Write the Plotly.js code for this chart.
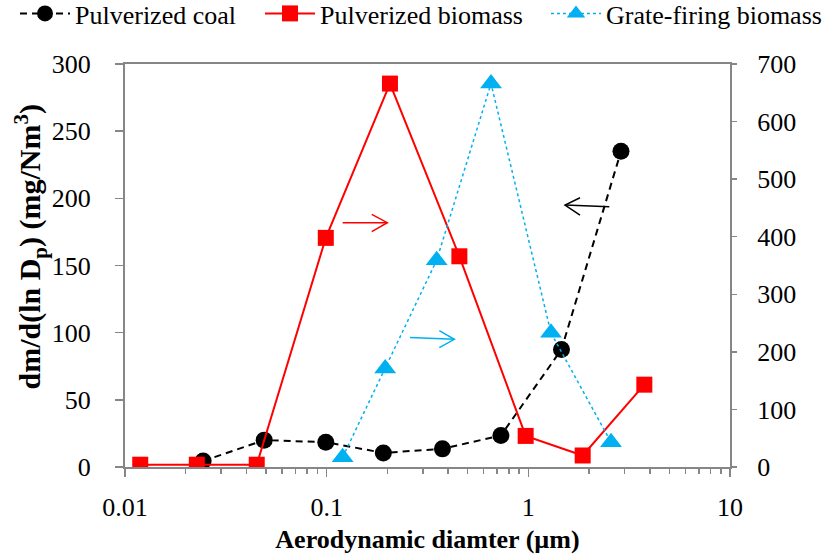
<!DOCTYPE html>
<html>
<head>
<meta charset="utf-8">
<script src="https://cdn.plot.ly/plotly-3.0.1.min.js"></script>
<style>html,body{margin:0;padding:0;background:#fff;}#chart{width:826px;height:554px;}</style>
</head>
<body>
<div id="chart"></div>
<script>
// ---- data ----
const coalX = [0.0244, 0.049, 0.099, 0.191, 0.375, 0.731, 1.46, 2.88];
const coalY = [4.5, 20, 18.5, 10.5, 13.5, 23.5, 87.5, 235];

const pulvBioX = [0.0119, 0.0227, 0.045, 0.099, 0.206, 0.455, 0.97, 1.86, 3.76];
const pulvBioY = [4, 4, 4, 398, 666, 366, 54, 20, 143];

const grateX = [0.120, 0.195, 0.351, 0.653, 1.295, 2.57];
const grateY = [17, 171, 359, 666, 233, 43];

const seriesNames = ["Pulverized coal", "Pulverized biomass", "Grate-firing biomass"];
const xTickVals = [0.01, 0.1, 1, 10];
const xTickText = ["0.01", "0.1", "1", "10"];

// ---- layout geometry ----
const W = 826, H = 554;
const L = 125, R = 96, T = 64, B = 87;
const pw = W - L - R, ph = H - T - B;
const FONT = "'Liberation Serif', 'Times New Roman', Times, serif";
const FS = 26;
const AX = "#868686";

function P(x, y) { return ((x - L) / pw).toFixed(4) + "," + ((H - B - y) / ph).toFixed(4); }
function arrow(x0, y0, x1, y1, hx1, hy1, hx2, hy2, color) {
  return [
    {type: "path", xref: "paper", yref: "paper", path: "M" + P(x0, y0) + "L" + P(x1, y1), line: {color: color, width: 1.5}},
    {type: "path", xref: "paper", yref: "paper", path: "M" + P(hx1, hy1) + "L" + P(x1, y1) + "L" + P(hx2, hy2), line: {color: color, width: 1.5}}
  ];
}
function legendAt(px) {
  return {orientation: "h", x: (px - L) / pw, xanchor: "left", y: (H - B + 10) / ph, yanchor: "top",
          font: {family: FONT, size: 26, color: "#000"}, bgcolor: "rgba(0,0,0,0)", itemwidth: 50};
}

const traces = [
  {x: coalX, y: coalY, name: seriesNames[0], type: "scatter", mode: "lines+markers", yaxis: "y", legend: "legend",
   line: {color: "#000", width: 2, dash: "7px,5px"}, marker: {symbol: "circle", size: 17, color: "#000"}},
  {x: pulvBioX, y: pulvBioY, name: seriesNames[1], type: "scatter", mode: "lines+markers", yaxis: "y2", legend: "legend2",
   line: {color: "#FF0000", width: 2}, marker: {symbol: "square", size: 16, color: "#FF0000"}},
  {x: grateX, y: grateY, name: seriesNames[2], type: "scatter", mode: "lines+markers", yaxis: "y2", legend: "legend3",
   line: {color: "#00B0F0", width: 1.5, dash: "dot"}, marker: {symbol: "triangle-up", size: 19, color: "#00B0F0"}}
];

const shapes = [].concat(
  arrow(342.7, 222.7, 387.3, 222.7, 371.7, 214.3, 371.7, 231.7, "#FF0000"),
  arrow(410, 337.5, 454.3, 339.3, 439.3, 330.7, 439.3, 347.7, "#00B0F0"),
  arrow(609.3, 206.7, 565, 205, 580, 197.7, 580, 215, "#000000")
);

const layout = {
  width: W, height: H,
  margin: {l: L, r: R, t: T, b: B, autoexpand: false},
  paper_bgcolor: "#fff", plot_bgcolor: "#fff",
  font: {family: FONT, size: FS, color: "#000"},
  showlegend: true,
  legend: legendAt(15),
  legend2: legendAt(260),
  legend3: legendAt(546),
  xaxis: {type: "log", range: [-2, 1], tickvals: xTickVals, ticktext: xTickText,
          showline: true, linecolor: AX, linewidth: 2, mirror: true,
          ticks: "outside", ticklen: 8, tickwidth: 1.5, tickcolor: AX, ticklabelstandoff: 8,
          minor: {ticks: "outside", ticklen: 5, tickwidth: 1.5, tickcolor: AX, dtick: "D1", showgrid: false},
          showgrid: false, zeroline: false,
          tickfont: {family: FONT, size: FS, color: "#000"},
          title: {text: "<b>Aerodynamic diamter (µm)</b>", font: {family: FONT, size: FS, color: "#000"}, standoff: 10}},
  yaxis: {range: [0, 300], dtick: 50, showline: true, linecolor: AX, linewidth: 2,
          ticks: "outside", ticklen: 8, tickwidth: 1.5, tickcolor: AX, ticklabelstandoff: 19,
          showgrid: false, zeroline: false,
          tickfont: {family: FONT, size: FS, color: "#000"},
          title: {text: "<b>&nbsp;&nbsp;&nbsp;&nbsp;&nbsp;dm/d(ln D<sub>p</sub>) (mg/Nm<sup>3</sup>)</b>",
                  font: {family: FONT, size: 30, color: "#000"}, standoff: 2}},
  // right axis: labels pushed out with an invisible long tick
  yaxis2: {range: [0, 700], dtick: 100, overlaying: "y", side: "right", showline: true, linecolor: AX, linewidth: 2,
           ticks: "outside", ticklen: 20, tickwidth: 1.5, tickcolor: "rgba(0,0,0,0)",
           showgrid: false, zeroline: false,
           tickfont: {family: FONT, size: FS, color: "#000"}},
  // right axis visible short ticks
  yaxis3: {range: [0, 700], dtick: 100, overlaying: "y", side: "right", showline: false,
           ticks: "outside", ticklen: 6, tickwidth: 1.5, tickcolor: AX, showticklabels: false,
           showgrid: false, zeroline: false},
  shapes: shapes
};

// invisible helper trace so the third (tick-only) axis is drawn
traces.push({x: [0.01], y: [0], yaxis: "y3", type: "scatter", mode: "markers",
             marker: {opacity: 0}, showlegend: false, hoverinfo: "skip"});

Plotly.newPlot("chart", traces, layout, {displayModeBar: false, staticPlot: true});
</script>
</body>
</html>
